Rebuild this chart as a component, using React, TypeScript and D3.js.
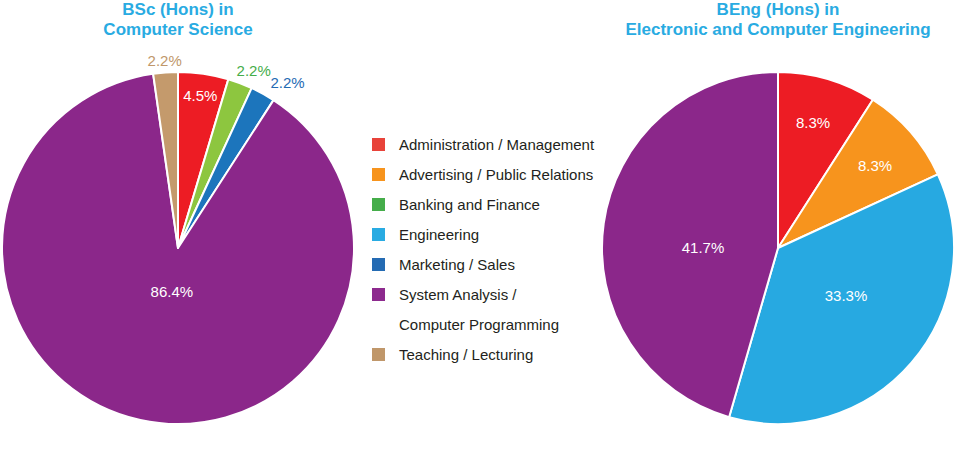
import * as d3 from "d3";

// categories shared by both pies and the legend ("\n" = legend line break)
const categories = [
  "Administration / Management",
  "Advertising / Public Relations",
  "Banking and Finance",
  "Engineering",
  "Marketing / Sales",
  "System Analysis /\nComputer Programming",
  "Teaching / Lecturing",
];

// percentages (0 = not present)
const bscValues = [4.5, 0, 2.2, 0, 2.2, 86.4, 2.2];
const bengValues = [8.3, 8.3, 0, 33.3, 0, 41.7, 0];

const bscTitle = ["BSc (Hons) in", "Computer Science"];
const bengTitle = ["BEng (Hons) in", "Electronic and Computer Engineering"];

const sliceColors = ["#ed1c24", "#f7941d", "#8dc63f", "#27a9e1", "#1c75bc", "#8b278a", "#c49a6c"];
const legendColors = ["#e8433a", "#f7941d", "#45ad4a", "#29abe2", "#246bb3", "#8d2a8e", "#c0976a"];

const width = 960;
const height = 450;
const radius = 176;
const font = "'Liberation Sans', Arial, sans-serif";
const titleColor = "#29abe2";

// label placement: distance from centre (px), angle nudge (deg), inside/outside
type LabelPos = { r: number; nudge: number; inside: boolean };
const bscLabels: Record<number, LabelPos> = {
  0: { r: 154, nudge: 0, inside: true },
  2: { r: 193, nudge: 2.4, inside: false },
  4: { r: 198, nudge: 4.8, inside: false },
  5: { r: 44, nudge: -4.3, inside: true },
  6: { r: 188, nudge: 0, inside: false },
};
const bengLabels: Record<number, LabelPos> = {
  0: { r: 130, nudge: -0.7, inside: true },
  1: { r: 127, nudge: 0.9, inside: true },
  3: { r: 83, nudge: -5.7, inside: true },
  5: { r: 75, nudge: -8, inside: true },
};

type Slice = { idx: number; value: number };

const Pie = ({
  cx,
  cy,
  values,
  labels,
  title,
}: {
  cx: number;
  cy: number;
  values: number[];
  labels: Record<number, LabelPos>;
  title: string[];
}) => {
  const slices: Slice[] = values
    .map((value, idx) => ({ idx, value }))
    .filter((d) => d.value > 0);
  const pie = d3
    .pie<Slice>()
    .sort(null)
    .value((d) => d.value);
  const arcs = pie(slices);
  const arc = d3.arc<d3.PieArcDatum<Slice>>().innerRadius(0).outerRadius(radius);

  return (
    <g>
      {title.map((t, i) => (
        <text
          key={i}
          x={cx}
          y={15 + i * 19.5}
          textAnchor="middle"
          fontFamily={font}
          fontWeight="bold"
          fontSize={17}
          fill={titleColor}
        >
          {t}
        </text>
      ))}
      <g transform={`translate(${cx},${cy})`}>
        {arcs.map((a) => (
          <path
            key={a.data.idx}
            d={arc(a)!}
            fill={sliceColors[a.data.idx]}
            stroke="#fff"
            strokeWidth={2}
            strokeLinejoin="round"
          />
        ))}
        {arcs.map((a) => {
          const lp = labels[a.data.idx];
          if (!lp) return null;
          const ang = (a.startAngle + a.endAngle) / 2 + (lp.nudge * Math.PI) / 180;
          return (
            <text
              key={a.data.idx}
              x={lp.r * Math.sin(ang)}
              y={-lp.r * Math.cos(ang)}
              dy="0.35em"
              textAnchor="middle"
              fontFamily={font}
              fontSize={15}
              fill={lp.inside ? "#fff" : legendColors[a.data.idx]}
            >
              {a.data.value}%
            </text>
          );
        })}
      </g>
    </g>
  );
};

const Legend = ({ x, y }: { x: number; y: number }) => {
  let row = 0;
  const items: JSX.Element[] = [];
  categories.forEach((c, i) => {
    const lines = c.split("\n");
    const top = y + row * 30;
    items.push(
      <rect key={`r${i}`} x={x} y={top - 6.5} width={13} height={13} fill={legendColors[i]} />
    );
    lines.forEach((ln, j) => {
      items.push(
        <text
          key={`t${i}-${j}`}
          x={x + 27}
          y={top + j * 30 + 5.5}
          fontFamily={font}
          fontSize={15}
          fill="#231f20"
        >
          {ln}
        </text>
      );
    });
    row += lines.length;
  });
  return <g>{items}</g>;
};

const App = () => {
  return (
    <svg
      width={width}
      height={height}
      style={{ position: "absolute", left: 0, top: 0, background: "#fff" }}
    >
      <Pie cx={178} cy={248} values={bscValues} labels={bscLabels} title={bscTitle} />
      <Pie cx={778} cy={248} values={bengValues} labels={bengLabels} title={bengTitle} />
      <Legend x={372} y={144.5} />
    </svg>
  );
};

export default App;
